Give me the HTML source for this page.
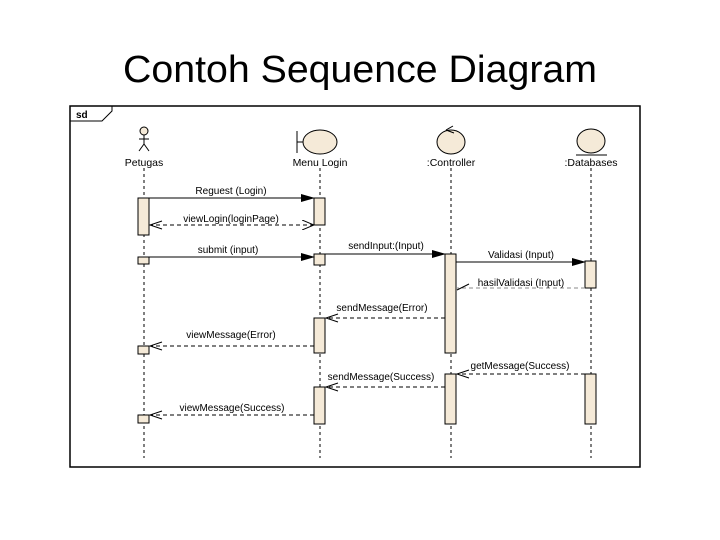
<!DOCTYPE html>
<html><head><meta charset="utf-8"><style>
html,body{margin:0;padding:0;background:#fff;}
svg{display:block;}
text{font-family:"Liberation Sans",sans-serif;}
</style></head><body>
<svg width="720" height="540" viewBox="0 0 720 540" xmlns="http://www.w3.org/2000/svg">
<defs>
<marker id="f" markerWidth="14" markerHeight="8" refX="13" refY="4" orient="auto" markerUnits="userSpaceOnUse"><path d="M0,0 L14,4 L0,8 Z" fill="#000"/></marker>
<marker id="o" markerWidth="12" markerHeight="10" refX="0" refY="5" orient="auto" markerUnits="userSpaceOnUse"><path d="M12,0 L0,5 L12,10" fill="none" stroke="#000" stroke-width="1"/></marker>
</defs>
<text x="360" y="82" font-size="38" text-anchor="middle" textLength="474" lengthAdjust="spacingAndGlyphs">Contoh Sequence Diagram</text>
<rect x="70" y="106" width="570" height="361" fill="#fff" stroke="#000" stroke-width="1.5"/>
<path d="M70,121 L102,121 L112,111 L112,106" fill="none" stroke="#000" stroke-width="1"/>
<text x="76" y="118" font-size="10" font-weight="bold">sd</text>
<!-- lifelines -->
<g stroke="#000" stroke-width="1" stroke-dasharray="3,3">
<line x1="144" y1="168" x2="144" y2="458"/>
<line x1="320" y1="168" x2="320" y2="458"/>
<line x1="451" y1="168" x2="451" y2="458"/>
<line x1="591" y1="168" x2="591" y2="458"/>
</g>
<!-- actor -->
<g stroke="#000" stroke-width="1" fill="none">
<circle cx="144" cy="131" r="4" fill="#f5ead8"/>
<line x1="144" y1="135" x2="144" y2="144"/>
<line x1="139" y1="139" x2="149" y2="139"/>
<line x1="144" y1="144" x2="139" y2="151"/>
<line x1="144" y1="144" x2="149" y2="151"/>
</g>
<!-- boundary -->
<g stroke="#000" stroke-width="1">
<line x1="297" y1="131" x2="297" y2="153"/>
<line x1="297" y1="142" x2="303" y2="142"/>
<ellipse cx="320" cy="142" rx="17" ry="12" fill="#f5ead8"/>
</g>
<!-- controller -->
<g stroke="#000" stroke-width="1" fill="#f5ead8">
<ellipse cx="451" cy="142" rx="14" ry="12"/>
<path d="M446,130 L453,126 M446,130 L454,133" fill="none"/>
</g>
<!-- entity -->
<g stroke="#000" stroke-width="1">
<ellipse cx="591" cy="141" rx="14" ry="12" fill="#f5ead8"/>
<line x1="576" y1="155" x2="607" y2="155"/>
</g>
<g font-size="10.5" text-anchor="middle">
<text x="144" y="166">Petugas</text>
<text x="320" y="166">Menu Login</text>
<text x="451" y="166">:Controller</text>
<text x="591" y="166">:Databases</text>
</g>
<!-- activations -->
<g fill="#f5ead8" stroke="#000" stroke-width="1">
<rect x="138" y="198" width="11" height="37"/>
<rect x="314" y="198" width="11" height="27"/>
<rect x="138" y="257" width="11" height="7"/>
<rect x="314" y="254" width="11" height="11"/>
<rect x="445" y="254" width="11" height="99"/>
<rect x="585" y="261" width="11" height="27"/>
<rect x="314" y="318" width="11" height="35"/>
<rect x="138" y="346" width="11" height="8"/>
<rect x="445" y="374" width="11" height="50"/>
<rect x="585" y="374" width="11" height="50"/>
<rect x="314" y="387" width="11" height="37"/>
<rect x="138" y="415" width="11" height="8"/>
</g>
<!-- messages -->
<g stroke="#000" stroke-width="1" fill="none">
<line x1="149" y1="198" x2="314" y2="198" marker-end="url(#f)"/>
<line x1="149" y1="257" x2="314" y2="257" marker-end="url(#f)"/>
<line x1="325" y1="254" x2="445" y2="254" marker-end="url(#f)"/>
<line x1="456" y1="262" x2="585" y2="262" marker-end="url(#f)"/>
</g>
<g stroke="#000" stroke-width="1" fill="none" stroke-dasharray="4,3">
<line x1="314" y1="225" x2="150" y2="225" marker-start="url(#o)"/>
<line x1="585" y1="288" x2="457" y2="288" stroke="#888"/>
<line x1="445" y1="318" x2="326" y2="318"/>
<line x1="314" y1="346" x2="150" y2="346"/>
<line x1="585" y1="374" x2="457" y2="374"/>
<line x1="445" y1="387" x2="326" y2="387"/>
<line x1="314" y1="415" x2="150" y2="415"/>
</g>
<g stroke="#000" stroke-width="1" fill="none">
<path d="M162,221 L150,225 L162,229"/>
<path d="M469,284 L457,290"/>
<path d="M338,314 L326,318 L338,322"/>
<path d="M162,342 L150,346 L162,350"/>
<path d="M469,370 L457,374 L469,378"/>
<path d="M338,383 L326,387 L338,391"/>
<path d="M162,411 L150,415 L162,419"/>
</g>
<g font-size="10">
<text x="231" y="194" text-anchor="middle">Reguest (Login)</text>
<text x="231" y="222" text-anchor="middle">viewLogin(loginPage)</text>
<text x="228" y="253" text-anchor="middle">submit (input)</text>
<text x="386" y="249" text-anchor="middle">sendInput:(Input)</text>
<text x="521" y="258" text-anchor="middle">Validasi (Input)</text>
<text x="521" y="286" text-anchor="middle">hasilValidasi (Input)</text>
<text x="382" y="311" text-anchor="middle">sendMessage(Error)</text>
<text x="231" y="338" text-anchor="middle">viewMessage(Error)</text>
<text x="520" y="369" text-anchor="middle">getMessage(Success)</text>
<text x="381" y="380" text-anchor="middle">sendMessage(Success)</text>
<text x="232" y="411" text-anchor="middle">viewMessage(Success)</text>
</g>
</svg>
</body></html>
